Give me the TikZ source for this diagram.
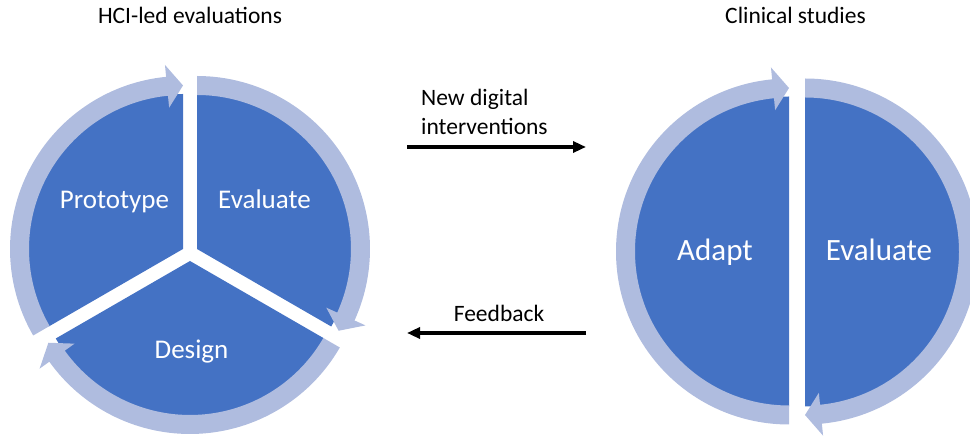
\documentclass[tikz,border=0pt]{standalone}
\usepackage{fontspec}
\setmainfont{Carlito}
\usetikzlibrary{arrows.meta}
\usetikzlibrary{positioning}

\definecolor{pieblue}{HTML}{4472C4}
\definecolor{ringblue}{HTML}{AFBCDF}

% one pie segment with its arrow band: apex x, apex y, start angle, end angle
\newcommand{\cyclepart}[4]{%
  \begin{scope}[shift={(#1,#2)}]
    \fill[pieblue] (0,0) -- (#3:155) arc[start angle=#3, end angle=#4, radius=155] -- cycle;
    \fill[ringblue] (#3:154) -- (#3:173) arc[start angle=#3, end angle={#4+5.6}, radius=173]
      -- ({#4+5.6}:185) -- (#4:163.5) -- ({#4+5.6}:142) -- ({#4+5.6}:154)
      arc[start angle={#4+5.6}, end angle=#3, radius=154] -- cycle;
  \end{scope}}

\begin{document}
\begin{tikzpicture}[x=1pt, y=1pt, every node/.style={inner sep=0pt},
  head/.style={anchor=base, font=\fontsize{23.5}{28}\selectfont},
  seglbl/.style={anchor=base, text=white, font=\fontsize{27}{32}\selectfont},
  biglbl/.style={anchor=base, text=white, font=\fontsize{31}{37}\selectfont},
  midlbl/.style={font=\fontsize{23.5}{28.3}\selectfont},
  flow/.style={line width=3.2pt, -{Triangle[length=13pt, width=11pt]}}]
\useasboundingbox (0,0) rectangle (970,436);

\cyclepart{183}{187}{210}{90}
\cyclepart{197}{187}{90}{-30}
\cyclepart{190}{175}{-30}{-150}

\cyclepart{789}{184.5}{270}{90}
\cyclepart{805}{184.5}{90}{-90}

\node[head] (hci) at (190,412.7) {HCI-led evaluations};
\node[head] (clinical) at (795.5,412.7) {Clinical studies};

\node[seglbl] (proto) at (114.5,227) {Prototype};
\node[seglbl] (evalL) at (264.5,227) {Evaluate};
\node[seglbl] (design) at (191.5,77) {Design};
\node[biglbl] (adapt) at (715,175) {Adapt};
\node[biglbl] (evalR) at (879,175) {Evaluate};

% base anchor sits on the last line here
\node[midlbl, anchor=base west, align=left] (newdig) at (421,301.7) {New digital\\interventions};
\node[midlbl, anchor=base] (feedback) at (499,114.3) {Feedback};

\coordinate (fwd-a) at (407,289);
\coordinate (fwd-b) at (586,289);
\coordinate (back-a) at (586,103);
\coordinate (back-b) at (407,103);
\draw[flow] (fwd-a) -- (fwd-b);
\draw[flow] (back-a) -- (back-b);
\end{tikzpicture}
\end{document}
